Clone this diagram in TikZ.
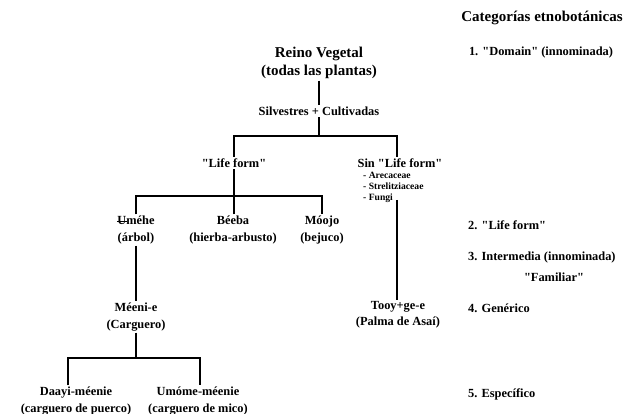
\documentclass[tikz,border=0pt]{standalone}
\usepackage{fontspec}
\newfontfamily\lib{Liberation Serif}
\newcommand{\barredU}{\leavevmode\rlap{\hbox to \fontcharwd\font`U{\hss\rule[0.5ex]{0.8em}{0.15ex}\hss}}U}
\begin{document}
\begin{tikzpicture}[x=1pt,y=-1pt,
  txt/.style={font=\lib\bfseries\fontsize{12.4}{16.5}\selectfont, align=center, inner sep=1.5pt},
  big/.style={font=\lib\bfseries\fontsize{15}{18.5}\selectfont, align=center, inner sep=1.5pt},
  small/.style={font=\lib\bfseries\fontsize{9.6}{11}\selectfont, align=left, inner sep=1pt},
  cat/.style={font=\lib\bfseries\fontsize{12.4}{17}\selectfont, anchor=west, inner sep=0pt},
  ln/.style={line width=1.1pt}]
\useasboundingbox (0,0) rectangle (627,414);
% tree
\node[big] (reino) at (319,63) {Reino Vegetal\\(todas las plantas)};
\node[txt] (sv) at (319,111) {Silvestres + Cultivadas};
\node[txt] (lf) at (234,163) {"Life form"};
\node[txt] (sin) at (400,163) {Sin "Life form"};
\node[small, anchor=north west] (list) at (362,171) {- Arecaceae\\- Strelitziaceae\\- Fungi};
\node[txt] (ume) at (136,230) {\barredU m\'ehe\\(\'arbol)};
\node[txt] (beeba) at (233,230) {B\'eeba\\(hierba-arbusto)};
\node[txt] (moojo) at (322,230) {M\'oojo\\(bejuco)};
\node[txt] (meeni) at (136,317) {M\'eeni-e\\(Carguero)};
\node[txt] (daayi) at (76,401) {Daayi-m\'eenie\\(carguero de puerco)};
\node[txt] (umome) at (198,401) {Um\'ome-m\'eenie\\(carguero de mico)};
\node[txt] (tooy) at (398,315) {Tooy+ge-e\\(Palma de Asa\'i)};
% categories
\node[big] (cathead) at (542,18) {Categor\'ias etnobot\'anicas};
\node[txt] (c1) at (541,53) {1. "Domain" (innominada)};
\node[cat] (c2) at (468,225) {2. "Life form"};
\node[cat] (c3) at (468,258) {3. Intermedia (innominada)};
\node[txt] (c3b) at (554,277) {"Familiar"};
\node[cat] (c4) at (468,308) {4. Gen\'erico};
\node[cat] (c5) at (468,394) {5. Espec\'ifico};
% connectors
\coordinate (j1) at (319,136);
\coordinate (j2) at (234,196);
\coordinate (j3) at (136,358);
\draw[ln] (reino.south) -- (sv.north);
\draw[ln] (sv.south) -- (j1);
\draw[ln] (lf.north) |- (j1) -| (sin.north -| 397,0);
\draw[ln] (lf.south) -- (j2);
\draw[ln] (ume.north) |- (j2) -| (moojo.north);
\draw[ln] (beeba.north -| j2) -- (j2);
\draw[ln] (ume.south) -- (meeni.north);
\draw[ln] (meeni.south) -- (j3);
\draw[ln] (daayi.north -| 68,0) |- (j3) -| (umome.north -| 200,0);
\draw[ln] ([yshift=4pt]list.south -| 397,0) -- (tooy.north -| 397,0);
\end{tikzpicture}
\end{document}
